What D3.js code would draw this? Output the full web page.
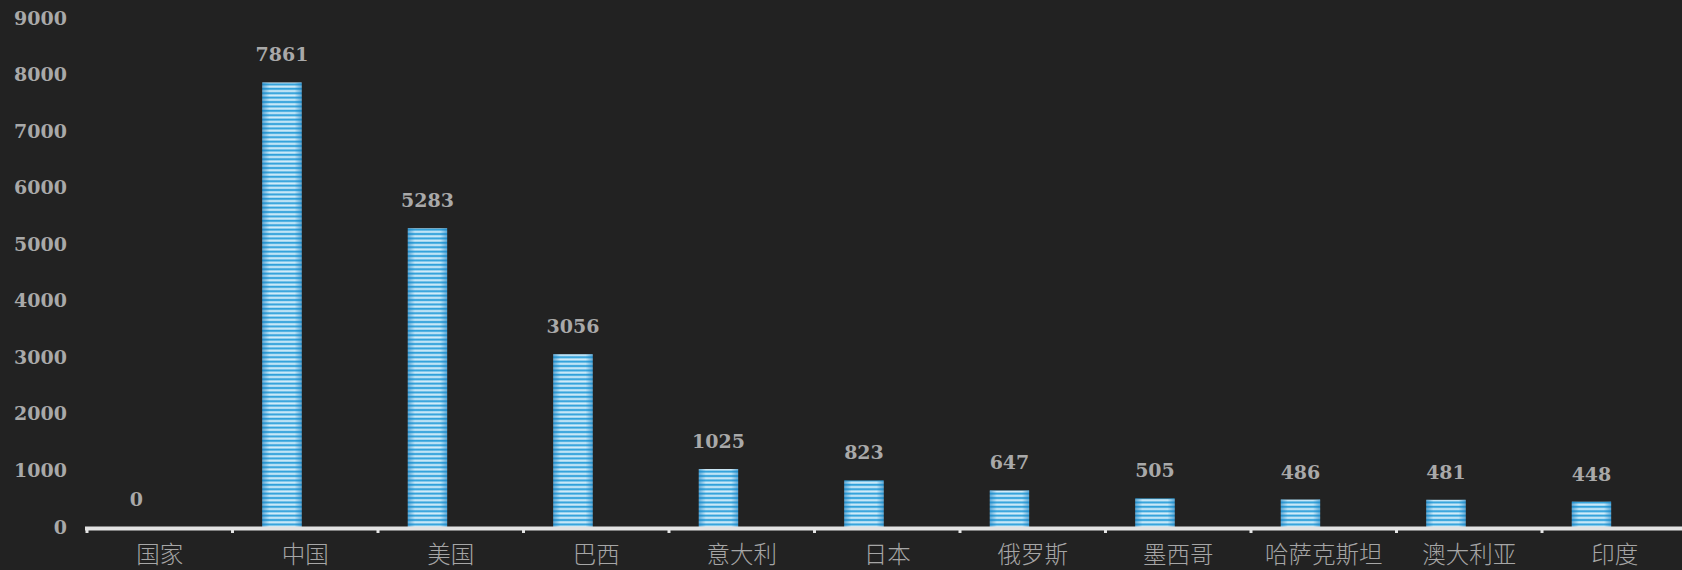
<!DOCTYPE html>
<html>
<head>
<meta charset="utf-8">
<script src="https://cdn.jsdelivr.net/npm/d3@7"></script>
<style>
  html, body { margin: 0; padding: 0; background: #222222; }
  svg { display: block; }
</style>
</head>
<body>
<div id="chart"></div>
<script>
// data
const categories = ['国家', '中国', '美国', '巴西', '意大利', '日本', '俄罗斯', '墨西哥', '哈萨克斯坦', '澳大利亚', '印度'];
const values = [0, 7861, 5283, 3056, 1025, 823, 647, 505, 486, 481, 448];
const yTicks = [0, 1000, 2000, 3000, 4000, 5000, 6000, 7000, 8000, 9000];

const width = 1682, height = 570;
const marginLeft = 87, plotBottom = 527, plotTop = 18;

const svg = d3.select('#chart').append('svg')
    .attr('width', width)
    .attr('height', height);

svg.append('rect').attr('width', width).attr('height', height).attr('fill', '#222222');

const x = d3.scaleBand()
    .domain(categories)
    .range([marginLeft, marginLeft + 145.5 * categories.length]);

const y = d3.scaleLinear()
    .domain([0, 9000])
    .range([plotBottom, plotTop]);

// striped fill for bars
const defs = svg.append('defs');
const stripeGrad = defs.append('linearGradient').attr('id', 'stripeGrad')
    .attr('x1', '0%').attr('x2', '0%').attr('y1', '0%').attr('y2', '100%');
[['0%', '#2b9cd8'], ['30%', '#3fa9de'], ['55%', '#bfe4f6'], ['75%', '#d8effa'], ['100%', '#7cc4e9']]
    .forEach(s => stripeGrad.append('stop').attr('offset', s[0]).attr('stop-color', s[1]));
const pat = defs.append('pattern')
    .attr('id', 'stripes')
    .attr('patternUnits', 'userSpaceOnUse')
    .attr('width', 8).attr('height', 4.4);
pat.append('rect').attr('width', 8).attr('height', 4.4).attr('fill', 'url(#stripeGrad)');

const edge = defs.append('linearGradient').attr('id', 'edge')
    .attr('x1', '0%').attr('x2', '100%').attr('y1', '0%').attr('y2', '0%');
edge.append('stop').attr('offset', '0%').attr('stop-color', '#1a80c0').attr('stop-opacity', 0.6);
edge.append('stop').attr('offset', '18%').attr('stop-color', '#1a80c0').attr('stop-opacity', 0);
edge.append('stop').attr('offset', '82%').attr('stop-color', '#1a80c0').attr('stop-opacity', 0);
edge.append('stop').attr('offset', '100%').attr('stop-color', '#1a80c0').attr('stop-opacity', 0.6);

const barW = x.bandwidth() * 0.27;
const barX = d => x(d) + x.bandwidth() * 0.205;

const bars = svg.append('g');
categories.forEach((c, i) => {
    const h = plotBottom - y(values[i]);
    if (h <= 0) return;
    bars.append('rect')
        .attr('x', barX(c)).attr('y', y(values[i]))
        .attr('width', barW).attr('height', h)
        .attr('fill', 'url(#stripes)');
    bars.append('rect')
        .attr('x', barX(c)).attr('y', y(values[i]))
        .attr('width', barW).attr('height', h)
        .attr('fill', 'url(#edge)');
});

// value labels
svg.append('g').selectAll('text')
    .data(categories)
    .join('text')
    .attr('x', d => barX(d) + barW / 2)
    .attr('y', (d, i) => y(values[i]) - 21)
    .attr('text-anchor', 'middle')
    .attr('fill', '#a9a9a9')
    .style('font-family', '"DejaVu Serif", serif')
    .style('font-weight', 'bold')
    .style('font-size', '19px')
    .text((d, i) => values[i]);

// y axis labels
const yAxis = svg.append('g')
    .attr('transform', `translate(${marginLeft - 20},0)`)
    .call(d3.axisLeft(y).tickValues(yTicks).tickFormat(d3.format('d')).tickSize(0).tickPadding(0));
yAxis.select('.domain').remove();
yAxis.selectAll('text')
    .attr('fill', '#a9a9a9')
    .style('font-family', '"DejaVu Serif", serif')
    .style('font-weight', 'bold')
    .style('font-size', '19px');

// x axis
const xAxis = svg.append('g')
    .attr('transform', `translate(0,${plotBottom})`)
    .call(d3.axisBottom(x).tickSize(0).tickPadding(19));
xAxis.select('.domain').remove();
xAxis.selectAll('text')
    .attr('fill', '#a6a6a6')
    .style('font-family', '"Noto Sans CJK SC", sans-serif')
    .style('font-weight', '300')
    .style('font-size', '23.5px');

svg.append('line')
    .attr('x1', marginLeft - 2).attr('x2', width)
    .attr('y1', plotBottom + 1.5).attr('y2', plotBottom + 1.5)
    .attr('stroke', '#e3e3e3').attr('stroke-width', 4);

const bounds = categories.map(c => x(c));
svg.append('g').selectAll('rect')
    .data(bounds)
    .join('rect')
    .attr('x', d => d - 1.5).attr('y', plotBottom)
    .attr('width', 3).attr('height', 6)
    .attr('fill', '#e3e3e3');
</script>
</body>
</html>
